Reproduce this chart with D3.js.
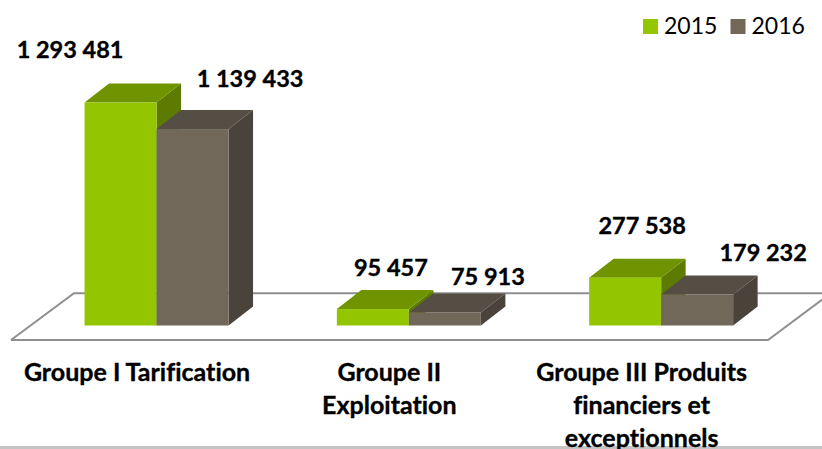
<!DOCTYPE html>
<html>
<head>
<meta charset="utf-8">
<script src="https://cdn.jsdelivr.net/npm/d3@7"></script>
<style>
html, body { margin: 0; padding: 0; background: #fff; overflow: hidden; }
svg { display: block; }
text { font-family: Lato, "Noto Sans", sans-serif; fill: #000; font-variant-ligatures: none; }
.heavy { stroke: #000; stroke-width: 0.35; }
</style>
</head>
<body>
<script>
const years = ["2015", "2016"]
const categories = ["Groupe I Tarification", "Groupe II Exploitation", "Groupe III Produits financiers et exceptionnels"]
const categoryLines = [["Groupe I Tarification"], ["Groupe II", "Exploitation"], ["Groupe III Produits", "financiers et", "exceptionnels"]]
const values2015 = [1293481, 95457, 277538]
const values2016 = [1139433, 75913, 179232]
const valueLabels2015 = ["1 293 481", "95 457", "277 538"]
const valueLabels2016 = ["1 139 433", "75 913", "179 232"]

const WIDTH = 822
const HEIGHT = 449
const BASE_Y = 325.5
const DEPTH_X = 24.5
const DEPTH_Y = 19

const colors = {
	"2015": { front: "#94c600", top: "#6f9400", side: "#5c7b00" },
	"2016": { front: "#71685a", top: "#554e44", side: "#4a433c" }
}

// the data labels were moved by hand in the original, so each has its own nudge
const labelNudge = {
	"2015": [[-50.5, -44.5], [18, -33], [17, -44]],
	"2016": [[57.5, -42], [43, -27], [66, -33.5]]
}

var x = d3.scaleBand()
	.domain(categories)
	.range([30.4, 787.3])

var xInner = d3.scaleBand()
	.domain(years)
	.range([0, 144])

var y = d3.scaleLinear()
	.domain([0, 1293481])
	.range([BASE_Y, 102.5])

var svg = d3.select("body").append("svg")
	.attr("width", WIDTH)
	.attr("height", HEIGHT)

// bottom rule of the page
svg.append("rect")
	.attr("x", 0)
	.attr("y", 446)
	.attr("width", WIDTH)
	.attr("height", 3)
	.attr("fill", "#c4c4c4")

// floor of the 3d chart
svg.append("path")
	.attr("d", "M11,340 L74,293.3 L835,293.3 M11,340 L768,340 L835,290")
	.attr("fill", "none")
	.attr("stroke", "#8f8f8f")
	.attr("stroke-width", 2)

var bars = []
categories.forEach(function(c, i) {
	years.forEach(function(yr) {
		var vals = yr == "2015" ? values2015 : values2016
		var labs = yr == "2015" ? valueLabels2015 : valueLabels2016
		bars.push({ cat: c, year: yr, value: vals[i], label: labs[i], nudge: labelNudge[yr][i] })
	})
})

function barLeft(d) { return x(d.cat) + (x.bandwidth() - 144) / 2 + xInner(d.year) }

var bar = svg.selectAll("g.bar")
	.data(bars)
	.enter().append("g")
	.attr("class", "bar")

bar.append("path")
	.attr("fill", d => colors[d.year].side)
	.attr("d", function(d) {
		var r = barLeft(d) + xInner.bandwidth()
		return "M" + r + "," + y(d.value) + " l" + DEPTH_X + "," + (-DEPTH_Y) +
			" V" + (BASE_Y - DEPTH_Y) + " L" + r + "," + BASE_Y + " Z"
	})

bar.append("path")
	.attr("fill", d => colors[d.year].top)
	.attr("d", function(d) {
		var l = barLeft(d)
		return "M" + l + "," + y(d.value) + " l" + DEPTH_X + "," + (-DEPTH_Y) +
			" h" + xInner.bandwidth() + " l" + (-DEPTH_X) + "," + DEPTH_Y + " Z"
	})

bar.append("rect")
	.attr("x", barLeft)
	.attr("y", d => y(d.value))
	.attr("width", xInner.bandwidth())
	.attr("height", d => BASE_Y - y(d.value))
	.attr("fill", d => colors[d.year].front)

// value labels go on top of every bar
svg.selectAll("text.value")
	.data(bars)
	.enter().append("text")
	.attr("class", "value heavy")
	.attr("x", d => barLeft(d) + xInner.bandwidth() / 2 + d.nudge[0])
	.attr("y", d => y(d.value) + d.nudge[1])
	.attr("text-anchor", "middle")
	.attr("font-size", 23.5)
	.attr("font-weight", 700)
	.text(d => d.label)

// category labels
categories.forEach(function(c, i) {
	var t = svg.append("text")
		.attr("class", "heavy")
		.attr("text-anchor", "middle")
		.attr("font-size", 25)
		.attr("font-weight", 700)
	categoryLines[i].forEach(function(line, j) {
		t.append("tspan")
			.attr("x", x(c) + x.bandwidth() / 2 - 19.5)
			.attr("y", 381 + j * 33)
			.text(line)
	})
})

// legend
var legendX = d3.scaleOrdinal().domain(years).range([643, 730.5])
var legend = svg.selectAll("g.legend")
	.data(years)
	.enter().append("g")
	.attr("class", "legend")
	.attr("transform", d => "translate(" + legendX(d) + ",19)")

legend.append("rect")
	.attr("width", 15)
	.attr("height", 15)
	.attr("fill", d => colors[d].front)

legend.append("text")
	.attr("x", 21)
	.attr("y", 15)
	.attr("font-size", 23)
	.text(d => d)
</script>
</body>
</html>
